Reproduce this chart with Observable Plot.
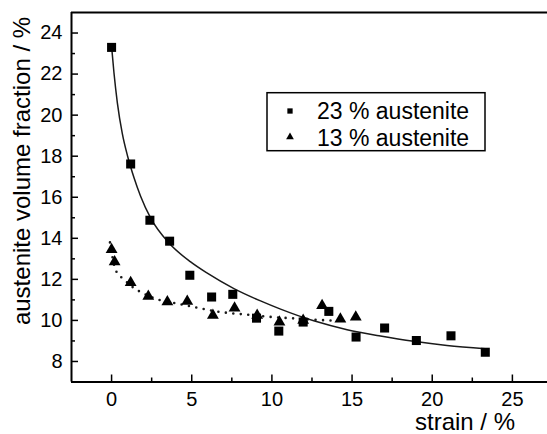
<!DOCTYPE html>
<html><head><meta charset="utf-8">
<script src="https://cdn.jsdelivr.net/npm/d3@7"></script>
<script src="https://cdn.jsdelivr.net/npm/@observablehq/plot@0.6"></script>
<style>html,body{margin:0;padding:0;background:#fff}svg{display:block}</style>
</head><body><div id="chart"></div>
<script>
// ---- data ----
const seriesNames = ["23 % austenite", "13 % austenite"];

const strain23 = [0, 1.19, 2.39, 3.62, 4.88, 6.24, 7.56, 9.04, 10.43, 11.95, 13.55, 15.25, 17.03, 19.01, 21.17, 23.31];
const frac23   = [23.3, 17.62, 14.88, 13.86, 12.2, 11.14, 11.27, 10.11, 9.48, 9.92, 10.44, 9.19, 9.63, 9.02, 9.25, 8.45];

const strain13 = [0, 0.19, 1.19, 2.29, 3.48, 4.72, 6.32, 7.67, 9.08, 10.47, 11.95, 13.13, 14.27, 15.23];
const frac13   = [13.45, 12.85, 11.84, 11.17, 10.9, 10.93, 10.25, 10.6, 10.25, 9.92, 10.0, 10.72, 10.06, 10.16];

// fitted curves
const fit23Strain = [0, 0.15, 0.36, 0.67, 1.0, 1.4, 1.81, 2.44, 3.64, 4.93, 5.97, 7.63, 9.29, 10.54, 12.61, 14.69, 16.77, 18.84, 20.92, 23.3];
const fit23Frac   = [23.35, 22.05, 20.6, 19.1, 18.0, 16.95, 16.05, 14.98, 13.72, 12.85, 12.3, 11.55, 10.95, 10.55, 9.98, 9.55, 9.24, 8.98, 8.78, 8.62];

const fit13Strain = [-0.1, 0.26, 0.77, 1.3, 2.02, 3.06, 4.1, 5.13, 6.8, 8.46, 10.12, 11.78, 13.03, 14.3];
const fit13Frac   = [13.8, 12.44, 12.0, 11.63, 11.3, 10.98, 10.82, 10.65, 10.41, 10.28, 10.16, 10.08, 10.02, 9.98];

const xTicks = [0, 5, 10, 15, 20, 25];
const xMinorTicks = [2.5, 7.5, 12.5, 17.5, 22.5];
const yTicks = [8, 10, 12, 14, 16, 18, 20, 22, 24];
const yMinorTicks = [9, 11, 13, 15, 17, 19, 21, 23];
const xTitle = "strain / %";
const yTitle = "austenite volume fraction / %";

// ---- build tables ----
const zip = (xs, ys) => xs.map((x, i) => ({x, y: ys[i]}));
const d23 = zip(strain23, frac23);
const d13 = zip(strain13, frac13);
const f23 = zip(fit23Strain, fit23Frac);
const f13 = zip(fit13Strain, fit13Frac);

const font = "'Liberation Sans', Arial, Helvetica, sans-serif";
const X0 = -2.5, X1 = 27.19, Y0 = 7, Y1 = 25;

const plot = Plot.plot({
  width: 547,
  height: 434,
  marginLeft: 71,
  marginRight: 0,
  marginTop: 12,
  marginBottom: 52.5,
  style: {fontFamily: font, background: "white", color: "black", overflow: "visible"},
  x: {domain: [X0, X1]},
  y: {domain: [Y0, Y1]},
  marks: [
    Plot.line(f23, {x: "x", y: "y", curve: "monotone-x", stroke: "#1a1a1a", strokeWidth: 1.5}),
    Plot.line(f13, {x: "x", y: "y", curve: "monotone-x", stroke: "#1a1a1a", strokeWidth: 2.6,
                    strokeDasharray: "0,7.5", strokeLinecap: "round"}),
    Plot.dot(d23, {x: "x", y: "y", symbol: "square", r: 5.1, fill: "black", stroke: "none"}),
    Plot.dot(d13, {x: "x", y: "y", symbol: "triangle", r: 4.4, fill: "black", stroke: "none"}),
    // frame (top, left, bottom)
    Plot.ruleY([Y1], {stroke: "black", strokeWidth: 2}),
    Plot.ruleY([Y0], {stroke: "black", strokeWidth: 2}),
    Plot.ruleX([X0], {stroke: "black", strokeWidth: 2}),
    // x axis: inward ticks + labels
    Plot.axisX({ticks: xTicks, tickSize: -7, tickFormat: () => "", label: null, strokeWidth: 1.5}),
    Plot.axisX({ticks: xMinorTicks, tickSize: -4, tickFormat: () => "", label: null, strokeWidth: 1.5}),
    Plot.axisX({ticks: xTicks, tickSize: 0, tickPadding: 10, fontSize: 20, label: null}),
    // y axis: inward ticks + labels
    Plot.axisY({ticks: yTicks, tickSize: -7, tickFormat: () => "", label: null, strokeWidth: 1.5}),
    Plot.axisY({ticks: yMinorTicks, tickSize: -4, tickFormat: () => "", label: null, strokeWidth: 1.5}),
    Plot.axisY({ticks: yTicks, tickSize: 0, tickPadding: 9, fontSize: 20, label: null})
  ]
});

document.getElementById("chart").appendChild(plot);

// ---- axis titles and legend ----
const svg = d3.select(plot);
svg.append("text")
  .attr("transform", "translate(30,171) rotate(-90)")
  .attr("text-anchor", "middle")
  .attr("font-family", font).attr("font-size", 24).attr("fill", "black")
  .text(yTitle);
svg.append("text")
  .attr("x", 515).attr("y", 430)
  .attr("text-anchor", "end")
  .attr("font-family", font).attr("font-size", 24).attr("fill", "black")
  .text(xTitle);

const lg = svg.append("g").attr("text-anchor", "start");
lg.append("rect").attr("x", 267).attr("y", 92.7).attr("width", 218).attr("height", 58)
  .attr("fill", "white").attr("stroke", "black").attr("stroke-width", 1.5);
lg.append("path").attr("d", d3.symbol(d3.symbolSquare, 28)()).attr("transform", "translate(290,111)").attr("fill", "black");
lg.append("path").attr("d", d3.symbol(d3.symbolTriangle, 26)()).attr("transform", "translate(290,137)").attr("fill", "black");
lg.append("text").attr("x", 317).attr("y", 119).attr("text-anchor", "start").attr("font-family", font).attr("font-size", 23).attr("fill", "black").text(seriesNames[0]);
lg.append("text").attr("x", 317).attr("y", 145.5).attr("text-anchor", "start").attr("font-family", font).attr("font-size", 23).attr("fill", "black").text(seriesNames[1]);
</script>
</body></html>
